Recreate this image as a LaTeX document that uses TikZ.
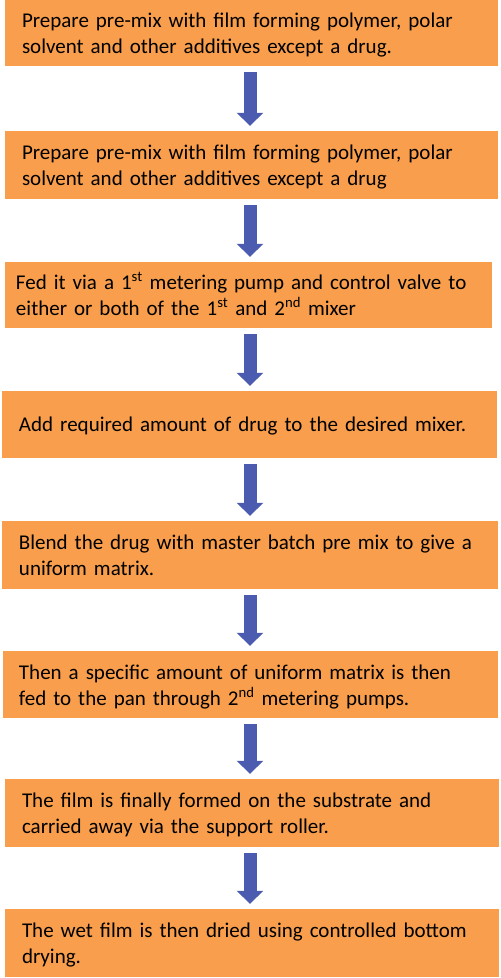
\documentclass[tikz,border=0pt]{standalone}
\usepackage{fontspec}
\setmainfont{Carlito}
\usetikzlibrary{arrows.meta}
\definecolor{boxorange}{RGB}{248,158,76}
\definecolor{arrowblue}{RGB}{74,91,176}
\tikzset{
  stepbox/.style={fill=boxorange, draw=none, inner xsep=17pt, inner ysep=0pt,
    align=left, anchor=center, text height=0pt, text depth=11pt,
    font=\fontsize{21}{26}\selectfont},
  oneline/.style={text height=13pt, text depth=0pt},
  flowarrow/.style={draw=arrowblue, line width=13pt,
    -{Triangle[width=26pt,length=13pt]},
    shorten <=6pt, shorten >=5pt}
}
\newcommand{\sps}[1]{\textsuperscript{#1}}
\begin{document}
\begin{tikzpicture}[x=1pt,y=-1pt]
\useasboundingbox (0,0) rectangle (501,978);
\fill[white] (0,0) rectangle (501,978);
\node[stepbox, minimum width=493pt, minimum height=66pt, text width=459pt] (b1) at (251.5,33)
  {Prepare pre-mix with film forming polymer, polar\\solvent and other additives except a drug.};
\node[stepbox, minimum width=493pt, minimum height=68pt, text width=459pt] (b2) at (251.5,165)
  {Prepare pre-mix with film forming polymer, polar\\solvent and other additives except a drug};
\node[stepbox, inner xsep=11pt, minimum width=487pt, minimum height=66pt, text width=465pt] (b3) at (248.5,295)
  {Fed it via a 1\sps{st} metering pump and control valve to\\either or both of the 1\sps{st} and 2\sps{nd} mixer};
\node[stepbox, oneline, minimum width=495pt, minimum height=67pt, text width=461pt] (b4) at (249.5,424.5)
  {Add required amount of drug to the desired mixer.};
\node[stepbox, minimum width=496pt, minimum height=68pt, text width=462pt] (b5) at (250,555)
  {Blend the drug with master batch pre mix to give a\\uniform matrix.};
\node[stepbox, inner xsep=16pt, minimum width=495pt, minimum height=67pt, text width=463pt] (b6) at (250.5,684.5)
  {Then a specific amount of uniform matrix is then\\fed to the pan through 2\sps{nd} metering pumps.};
\node[stepbox, minimum width=494pt, minimum height=68pt, text width=460pt] (b7) at (252,813)
  {The film is finally formed on the substrate and\\carried away via the support roller.};
\node[stepbox, minimum width=494pt, minimum height=68pt, text width=460pt] (b8) at (252,943)
  {The wet film is then dried using controlled bottom\\drying.};
\foreach \a/\b in {b1/b2,b2/b3,b3/b4,b4/b5,b5/b6,b6/b7,b7/b8}{
  \draw[flowarrow] (\a.south -| 250,0) -- (\b.north -| 250,0);
}
\end{tikzpicture}
\end{document}
